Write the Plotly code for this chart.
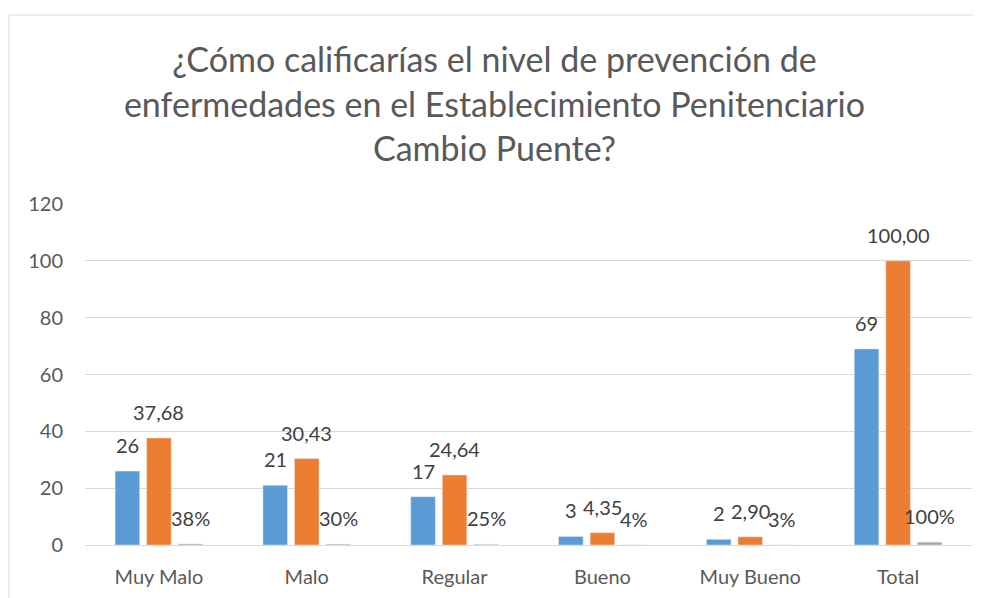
import plotly.graph_objects as go

categories = ["Muy Malo", "Malo", "Regular", "Bueno", "Muy Bueno", "Total"]
frecuencia = [26, 21, 17, 3, 2, 69]
porcentaje = [37.68, 30.43, 24.64, 4.35, 2.90, 100.00]
proporcion = [0.3768, 0.3043, 0.2464, 0.0435, 0.0290, 1.00]

title_text = ("¿Cómo calificarías el nivel de prevención de<br>"
              "enfermedades en el Establecimiento Penitenciario<br>"
              "Cambio Puente?")

FONT = "Lato, Open Sans, sans-serif"
TXT = "#404040"
LBL = 20

W, H = 973, 590
ML, MR, MT, MB = 77, 9, 196, 53
BARGAP = 0.36

series = [
    (frecuencia, "#5b9bd5", lambda v: f"{v}"),
    (porcentaje, "#ed7d31", lambda v: f"{v:.2f}".replace(".", ",")),
    (proporcion, "#a5a5a5", lambda v: f"{v:.0%}"),
]

fig = go.Figure()
for vals, col, _ in series:
    fig.add_trace(go.Bar(x=categories, y=vals, marker=dict(color=col),
                         hoverinfo="x+y"))

# data labels placed above each bar (offset like Excel "outside end")
slot = (W - ML - MR) / len(categories) * (1 - BARGAP) / len(series)
annotations = []
for i, (vals, col, fmt) in enumerate(series):
    for cat, v in zip(categories, vals):
        annotations.append(dict(
            x=cat, y=v, xref="x", yref="y", text=fmt(v), showarrow=False,
            xshift=(i - 1) * slot, yshift=26, yanchor="middle",
            font=dict(size=LBL, color=TXT, family=FONT)))

fig.update_layout(
    width=W, height=H,
    margin=dict(l=ML, r=MR, t=MT, b=MB),
    paper_bgcolor="white", plot_bgcolor="white",
    showlegend=False,
    barmode="group", bargap=BARGAP, bargroupgap=0.22,
    font=dict(family=FONT, color="#595959"),
    title=dict(text=title_text, x=0.5, xanchor="center",
               yref="container", y=0.891, yanchor="top",
               font=dict(size=34, color="#595959", family=FONT)),
    xaxis=dict(showgrid=False, showline=True, linecolor="#d9d9d9", linewidth=1,
               ticks="", ticklabelstandoff=14,
               tickfont=dict(size=20, color="#595959")),
    yaxis=dict(range=[0, 120], dtick=20, showgrid=True, gridcolor="#d9d9d9",
               gridwidth=1, zeroline=False, ticks="", ticklabelstandoff=21,
               tickfont=dict(size=20, color="#595959")),
    annotations=annotations,
    shapes=[dict(type="rect", xref="paper", yref="paper",
                 x0=-0.0857, x1=1.05, y0=-0.3, y1=1.554,
                 line=dict(color="#d9d9d9", width=1), fillcolor="rgba(0,0,0,0)",
                 layer="below")],
)

fig.write_html("out.html")
